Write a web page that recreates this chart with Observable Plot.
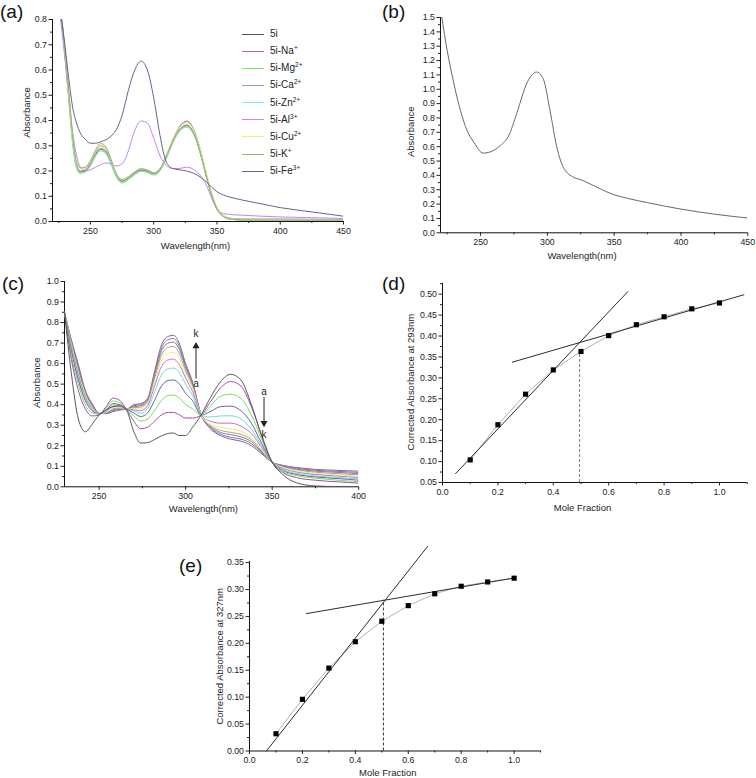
<!DOCTYPE html>
<html><head><meta charset="utf-8">
<script src="https://cdn.jsdelivr.net/npm/d3@7"></script>
<script src="https://cdn.jsdelivr.net/npm/@observablehq/plot@0.6"></script>
<style>
body{margin:0;background:#fff;}
#root{position:relative;width:756px;height:778px;overflow:hidden;font-family:"Liberation Sans",Arial,sans-serif;color:#111;}
.plab{position:absolute;font-size:19px;line-height:19px;color:#111;}
.legline{position:absolute;height:0;width:22px;}
.legtxt{position:absolute;font-size:10px;line-height:12px;white-space:nowrap;color:#222;}
.legtxt sup{font-size:6.5px;vertical-align:4px;line-height:0;}
</style></head><body><div id="root"></div>
<script>
// ---------- Panel (a): UV-vis of 5i with metal ions ----------
const aWave = [224,226,228,230,233,236,239,242,246,250,254,258,262,266,270,275,280,285,290,295,300,305,310,315,320,326,332,338,342,346,350,355,360,370,385,400,425,450];
const a_5i = [0.95,0.84,0.76,0.66,0.49,0.32,0.22,0.196,0.2,0.225,0.262,0.285,0.275,0.235,0.185,0.158,0.17,0.19,0.202,0.197,0.188,0.205,0.255,0.315,0.36,0.382,0.345,0.25,0.17,0.1,0.05,0.02,0.01,0.006,0.005,0.005,0.005,0.004];
const a_Na = [0.95,0.84,0.76,0.66,0.49,0.32,0.222,0.198,0.203,0.228,0.267,0.29,0.28,0.238,0.188,0.162,0.173,0.193,0.205,0.2,0.19,0.208,0.26,0.322,0.372,0.398,0.36,0.26,0.176,0.104,0.052,0.022,0.012,0.008,0.007,0.007,0.007,0.006];
const a_Mg = [0.95,0.83,0.75,0.64,0.47,0.30,0.21,0.19,0.196,0.22,0.258,0.28,0.27,0.23,0.18,0.152,0.165,0.185,0.198,0.194,0.184,0.2,0.25,0.31,0.355,0.375,0.342,0.25,0.17,0.1,0.048,0.02,0.01,0.006,0.005,0.004,0.004,0.004];
const a_Ca = [0.95,0.85,0.77,0.67,0.50,0.33,0.225,0.2,0.208,0.235,0.275,0.3,0.29,0.245,0.19,0.163,0.175,0.195,0.208,0.203,0.193,0.21,0.262,0.322,0.37,0.395,0.36,0.262,0.18,0.108,0.056,0.025,0.014,0.01,0.01,0.01,0.009,0.008];
const a_Zn = [0.95,0.84,0.75,0.65,0.48,0.31,0.215,0.193,0.198,0.222,0.26,0.283,0.273,0.233,0.183,0.156,0.168,0.188,0.2,0.195,0.186,0.203,0.253,0.312,0.356,0.373,0.34,0.248,0.168,0.1,0.05,0.021,0.012,0.008,0.007,0.007,0.006,0.006];
const a_Al = [0.92,0.82,0.73,0.64,0.49,0.35,0.26,0.215,0.2,0.205,0.215,0.225,0.232,0.228,0.22,0.228,0.28,0.36,0.398,0.39,0.33,0.26,0.222,0.21,0.21,0.215,0.205,0.175,0.14,0.09,0.05,0.032,0.028,0.025,0.021,0.018,0.015,0.012];
const a_Cu = [0.95,0.85,0.77,0.67,0.50,0.33,0.232,0.21,0.213,0.238,0.278,0.305,0.293,0.248,0.193,0.165,0.176,0.196,0.208,0.203,0.192,0.208,0.258,0.32,0.368,0.39,0.358,0.265,0.185,0.112,0.058,0.024,0.012,0.007,0.006,0.005,0.005,0.005];
const a_K  = [0.95,0.85,0.77,0.67,0.51,0.335,0.235,0.212,0.216,0.242,0.283,0.31,0.297,0.25,0.195,0.167,0.178,0.197,0.209,0.204,0.192,0.207,0.256,0.316,0.362,0.378,0.345,0.252,0.172,0.102,0.05,0.02,0.01,0.007,0.006,0.005,0.005,0.005];
const a_Fe = [0.92,0.84,0.77,0.69,0.56,0.45,0.39,0.35,0.325,0.31,0.31,0.316,0.323,0.337,0.36,0.42,0.52,0.6,0.635,0.6,0.49,0.34,0.235,0.21,0.205,0.2,0.19,0.172,0.155,0.135,0.118,0.105,0.097,0.085,0.07,0.055,0.038,0.021];
const ionBase   = ["5i","5i-Na","5i-Mg","5i-Ca","5i-Zn","5i-Al","5i-Cu","5i-K","5i-Fe"];
const ionCharge = ["","+","2+","2+","2+","3+","2+","+","3+"];
const ionColors = ["#555555","#b0707c","#7ae85a","#9a9ac0","#7eeedc","#c584f0","#eeee7a","#a0ae70","#64648e"];
const ionSeries = [a_5i,a_Na,a_Mg,a_Ca,a_Zn,a_Al,a_Cu,a_K,a_Fe];

// ---------- Panel (b) ----------
const bWave = [221,225,230,235,240,245,252,260,265,271,277,285,292,297,302,307,312,320,325,332,340,347,360,375,400,425,450];
const bAbs  = [1.5,1.27,1.04,0.85,0.71,0.63,0.555,0.575,0.61,0.675,0.83,1.05,1.12,1.07,0.85,0.6,0.455,0.385,0.37,0.34,0.305,0.275,0.24,0.21,0.165,0.13,0.103];

// ---------- Panel (c): titration a..k ----------
const cWave = [230,234,238,242,246,250,254,258,262,266,270,274,278,282,286,290,293,296,300,304,309,314,320,326,332,338,344,350,356,364,375,388,400];
const c_a = [0.85,0.55,0.33,0.268,0.305,0.35,0.375,0.39,0.395,0.37,0.27,0.213,0.215,0.23,0.248,0.26,0.262,0.25,0.25,0.29,0.35,0.43,0.51,0.548,0.52,0.40,0.245,0.12,0.06,0.02,0.004,0.001,0.0];
const c_b = [0.85,0.62,0.47,0.38,0.345,0.35,0.39,0.432,0.42,0.375,0.32,0.283,0.29,0.32,0.35,0.362,0.362,0.352,0.335,0.335,0.35,0.41,0.48,0.513,0.49,0.39,0.25,0.12,0.07,0.045,0.032,0.024,0.018];
const c_c = [0.85,0.64,0.5,0.40,0.36,0.355,0.385,0.418,0.41,0.376,0.345,0.32,0.33,0.37,0.42,0.445,0.447,0.435,0.40,0.38,0.35,0.39,0.44,0.451,0.43,0.35,0.23,0.12,0.075,0.055,0.042,0.032,0.025];
const c_d = [0.85,0.66,0.52,0.42,0.37,0.355,0.375,0.405,0.40,0.378,0.36,0.342,0.36,0.42,0.49,0.518,0.52,0.505,0.455,0.42,0.35,0.365,0.39,0.393,0.37,0.31,0.21,0.12,0.08,0.06,0.048,0.04,0.032];
const c_e = [0.85,0.67,0.53,0.43,0.375,0.355,0.37,0.398,0.395,0.378,0.37,0.358,0.38,0.46,0.545,0.575,0.578,0.56,0.50,0.445,0.35,0.34,0.345,0.346,0.33,0.28,0.20,0.12,0.085,0.065,0.053,0.045,0.038];
const c_f = [0.85,0.68,0.545,0.44,0.38,0.355,0.365,0.392,0.39,0.378,0.375,0.37,0.395,0.49,0.585,0.618,0.622,0.60,0.53,0.465,0.35,0.32,0.31,0.31,0.295,0.26,0.19,0.12,0.09,0.072,0.06,0.052,0.045];
const c_g = [0.85,0.69,0.555,0.45,0.385,0.356,0.362,0.386,0.386,0.378,0.38,0.38,0.405,0.51,0.615,0.65,0.655,0.63,0.55,0.48,0.35,0.305,0.29,0.282,0.27,0.24,0.18,0.12,0.095,0.078,0.066,0.058,0.052];
const c_h = [0.85,0.70,0.565,0.455,0.39,0.357,0.36,0.38,0.383,0.378,0.385,0.388,0.415,0.525,0.64,0.68,0.684,0.655,0.565,0.49,0.35,0.30,0.275,0.265,0.255,0.23,0.175,0.12,0.098,0.082,0.071,0.064,0.058];
const c_i = [0.85,0.705,0.575,0.46,0.395,0.357,0.358,0.375,0.38,0.378,0.39,0.394,0.42,0.54,0.66,0.70,0.705,0.675,0.58,0.50,0.35,0.295,0.265,0.254,0.243,0.22,0.17,0.12,0.10,0.086,0.076,0.07,0.064];
const c_j = [0.85,0.71,0.585,0.465,0.40,0.358,0.357,0.37,0.377,0.378,0.395,0.40,0.425,0.55,0.675,0.717,0.722,0.69,0.59,0.505,0.35,0.29,0.257,0.241,0.232,0.21,0.165,0.12,0.102,0.09,0.08,0.075,0.07];
const c_k = [0.85,0.715,0.595,0.47,0.405,0.358,0.356,0.366,0.374,0.378,0.40,0.405,0.43,0.56,0.69,0.733,0.738,0.705,0.60,0.51,0.35,0.285,0.25,0.232,0.222,0.20,0.16,0.12,0.105,0.094,0.085,0.08,0.076];
const cSeries = [c_a,c_b,c_c,c_d,c_e,c_f,c_g,c_h,c_i,c_j,c_k];
const cColors = ["#585858","#a848ae","#72e052","#6464aa","#66e0d2","#cc68e2","#eeee62","#a8a878","#7a7aaa","#9a6aac","#786a8c"];
const cArrows = [{x:306, y1:0.525, y2:0.685, dir:"up"}, {x:345.3, y1:0.435, y2:0.31, dir:"down"}];
const cArrowText = [{x:306, y:0.745, t:"k"}, {x:306, y:0.50, t:"a"}, {x:345.3, y:0.463, t:"a"}, {x:345.3, y:0.252, t:"k"}];

// ---------- Panels (d),(e): Job plots ----------
const moleFraction = [0.1,0.2,0.3,0.4,0.5,0.6,0.7,0.8,0.9,1.0];
const absD = [0.104,0.188,0.261,0.319,0.363,0.401,0.427,0.446,0.465,0.479];
const absE = [0.032,0.096,0.154,0.203,0.241,0.270,0.292,0.306,0.314,0.321];
const dFitSteep   = {x:[0.047,0.669], y:[0.071,0.506]};
const dFitShallow = {x:[0.252,1.088], y:[0.3375,0.4986]};
const dDrop = {x:0.495, y1:0.05, y2:0.36};
const eFitSteep   = {x:[0.064,0.673], y:[0.0,0.380]};
const eFitShallow = {x:[0.215,1.0], y:[0.2552,0.3214]};
const eDrop = {x:0.506, y1:0.0, y2:0.28};

// ---------- helpers ----------
const root = document.getElementById("root");
const FONT = '"Liberation Sans", Arial, Helvetica, sans-serif';
const range = (a,b,s) => d3.range(a, b + s/2, s).map(v => +v.toFixed(4));
const pts = (xs, ys) => xs.map((x,i) => ({x, y: ys[i]}));

function makePanel(o) {
  const mL = 60, mR = 20, mT = 30, mB = 40;
  const W = o.R - o.L, H = o.B - o.T;
  const marks = [
    Plot.axisX(o.xMinor, {tickSize: 2, tickFormat: () => "", label: null}),
    Plot.axisX(o.xMajor, {tickSize: 3.5, tickPadding: 2.5, tickFormat: o.xFmt, label: null}),
    Plot.axisY(o.yMinor, {tickSize: 2, tickFormat: () => "", label: null}),
    Plot.axisY(o.yMajor, {tickSize: 3.5, tickPadding: 2, tickFormat: o.yFmt, label: null}),
    Plot.ruleX([o.x[0]], {stroke: "#111"}),
    Plot.ruleY([o.y[0]], {stroke: "#111"}),
    Plot.text([o.ylabel], {text: d => d, frameAnchor: "left", textAnchor: "middle", lineAnchor: "middle", rotate: -90, dx: o.ylx - o.L, dy: o.yly - (o.T + o.B)/2, fontSize: 9.5, fill: "#222"}),
    Plot.text([o.xlabel], {text: d => d, frameAnchor: "bottom", textAnchor: "middle", lineAnchor: "middle", dx: o.xlx - (o.L + o.R)/2, dy: o.xly - o.B, fontSize: 9.5, fill: "#222"}),
    ...o.marks
  ];
  const svg = Plot.plot({
    width: W + mL + mR, height: H + mT + mB,
    marginLeft: mL, marginRight: mR, marginTop: mT, marginBottom: mB,
    x: {domain: o.x}, y: {domain: o.y},
    style: {background: "transparent", overflow: "visible", fontFamily: FONT, fontSize: "8.8px", color: "#222", maxWidth: "none"},
    marks
  });
  svg.style.position = "absolute";
  svg.style.left = (o.L - mL) + "px";
  svg.style.top = (o.T - mT) + "px";
  root.appendChild(svg);
  const lab = document.createElement("div");
  lab.className = "plab";
  lab.textContent = o.tag;
  lab.style.left = o.tagX + "px";
  lab.style.top = o.tagY + "px";
  root.appendChild(lab);
}
const f1 = d3.format(".1f"), f2 = d3.format(".2f");

// (a)
makePanel({
  L: 52, R: 343, T: 19, B: 221, x: [220, 450], y: [0, 0.8],
  xMajor: [250,300,350,400,450], xMinor: [225,275,325,375,425],
  yMajor: range(0, 0.8, 0.1), yMinor: range(0.05, 0.75, 0.1), xFmt: d3.format("d"), yFmt: f1,
  ylabel: "Absorbance", ylx: 26.7, yly: 112, xlabel: "Wavelength(nm)", xlx: 195, xly: 245,
  tag: "(a)", tagX: 0, tagY: 2,
  marks: ionSeries.map((s, i) => Plot.line(pts(aWave, s), {x: "x", y: "y", stroke: ionColors[i], strokeWidth: 1, curve: "monotone-x", clip: true}))
});
// legend for (a)
ionBase.forEach((b, i) => {
  const y = 34 + i * 17.15;
  const ln = document.createElement("div");
  ln.className = "legline";
  ln.style.left = "242px"; ln.style.top = (y - 0.5) + "px";
  ln.style.borderTop = "1px solid " + ionColors[i];
  root.appendChild(ln);
  const tx = document.createElement("div");
  tx.className = "legtxt";
  tx.style.left = "270px"; tx.style.top = (y - 6) + "px";
  tx.innerHTML = b + (ionCharge[i] ? "<sup>" + ionCharge[i] + "</sup>" : "");
  root.appendChild(tx);
});

// (b)
makePanel({
  L: 440, R: 747.3, T: 16.7, B: 232, x: [220, 450], y: [0, 1.5],
  xMajor: [250,300,350,400,450], xMinor: [225,275,325,375,425],
  yMajor: range(0, 1.5, 0.1), yMinor: range(0.05, 1.45, 0.1), xFmt: d3.format("d"), yFmt: f1,
  ylabel: "Absorbance", ylx: 410, yly: 131, xlabel: "Wavelength(nm)", xlx: 581.5, xly: 255,
  tag: "(b)", tagX: 382, tagY: 2,
  marks: [Plot.line(pts(bWave, bAbs), {x: "x", y: "y", stroke: "#666", strokeWidth: 1, curve: "monotone-x", clip: true})]
});

// (c)
makePanel({
  L: 64.1, R: 358.3, T: 280.7, B: 486, x: [230, 400], y: [0, 1.0],
  xMajor: [250,300,350,400], xMinor: [275,325,375],
  yMajor: range(0, 1.0, 0.1), yMinor: range(0.05, 0.95, 0.1), xFmt: d3.format("d"), yFmt: f1,
  ylabel: "Absorbance", ylx: 37, yly: 382, xlabel: "Wavelength(nm)", xlx: 203, xly: 508,
  tag: "(c)", tagX: 2, tagY: 274,
  marks: [
    ...cSeries.map((s, i) => Plot.line(pts(cWave, s), {x: "x", y: "y", stroke: cColors[i], strokeWidth: 1, curve: "monotone-x", clip: true})).reverse(),
    Plot.ruleX(cArrows, {x: "x", y1: "y1", y2: "y2", stroke: "#222", strokeWidth: 1}),
    Plot.dot(cArrows, {x: "x", y: "y2", symbol: "triangle", r: 2.6, fill: "#222", stroke: null, rotate: d => d.dir === "up" ? 0 : 180}),
    Plot.text(cArrowText, {x: "x", y: "y", text: "t", fontSize: 10, fill: "#222"})
  ]
});

// (d)
makePanel({
  L: 442, R: 746.7, T: 283, B: 482, x: [0, 1.1], y: [0.05, 0.5255],
  xMajor: range(0, 1.0, 0.2), xMinor: range(0.1, 1.1, 0.2),
  yMajor: range(0.05, 0.5, 0.05), yMinor: range(0.075, 0.525, 0.05), xFmt: f1, yFmt: f2,
  ylabel: "Corrected Absorbance at 293nm", ylx: 410.7, yly: 381.7, xlabel: "Mole Fraction", xlx: 582, xly: 507.7,
  tag: "(d)", tagX: 382, tagY: 274,
  marks: [
    Plot.ruleX([dDrop], {x: "x", y1: "y1", y2: "y2", stroke: "#6f8290", strokeDasharray: "3,2"}),
    Plot.line(pts(moleFraction, absD), {x: "x", y: "y", stroke: "#a4b6c0", strokeWidth: 1}),
    Plot.line(pts(dFitSteep.x, dFitSteep.y), {x: "x", y: "y", stroke: "#2a2a36", strokeWidth: 1}),
    Plot.line(pts(dFitShallow.x, dFitShallow.y), {x: "x", y: "y", stroke: "#2a2a36", strokeWidth: 1}),
    Plot.dot(pts(moleFraction, absD), {x: "x", y: "y", symbol: "square", r: 2.9, fill: "#000"})
  ]
});

// (e)
makePanel({
  L: 248.7, R: 539.8, T: 561.2, B: 750.7, x: [0, 1.1], y: [0, 0.352],
  xMajor: range(0, 1.0, 0.2), xMinor: range(0.1, 1.1, 0.2),
  yMajor: range(0, 0.35, 0.05), yMinor: range(0.025, 0.325, 0.05), xFmt: f1, yFmt: f2,
  ylabel: "Corrected Absorbance at 327nm", ylx: 219.3, yly: 656, xlabel: "Mole Fraction", xlx: 387, xly: 772.5,
  tag: "(e)", tagX: 179, tagY: 556,
  marks: [
    Plot.ruleX([eDrop], {x: "x", y1: "y1", y2: "y2", stroke: "#333", strokeDasharray: "3,2"}),
    Plot.line(pts(moleFraction, absE), {x: "x", y: "y", stroke: "#a4b6c0", strokeWidth: 1}),
    Plot.line(pts(eFitSteep.x, eFitSteep.y), {x: "x", y: "y", stroke: "#2a2a36", strokeWidth: 1}),
    Plot.line(pts(eFitShallow.x, eFitShallow.y), {x: "x", y: "y", stroke: "#2a2a36", strokeWidth: 1}),
    Plot.dot(pts(moleFraction, absE), {x: "x", y: "y", symbol: "square", r: 2.9, fill: "#000"})
  ]
});
</script></body></html>
